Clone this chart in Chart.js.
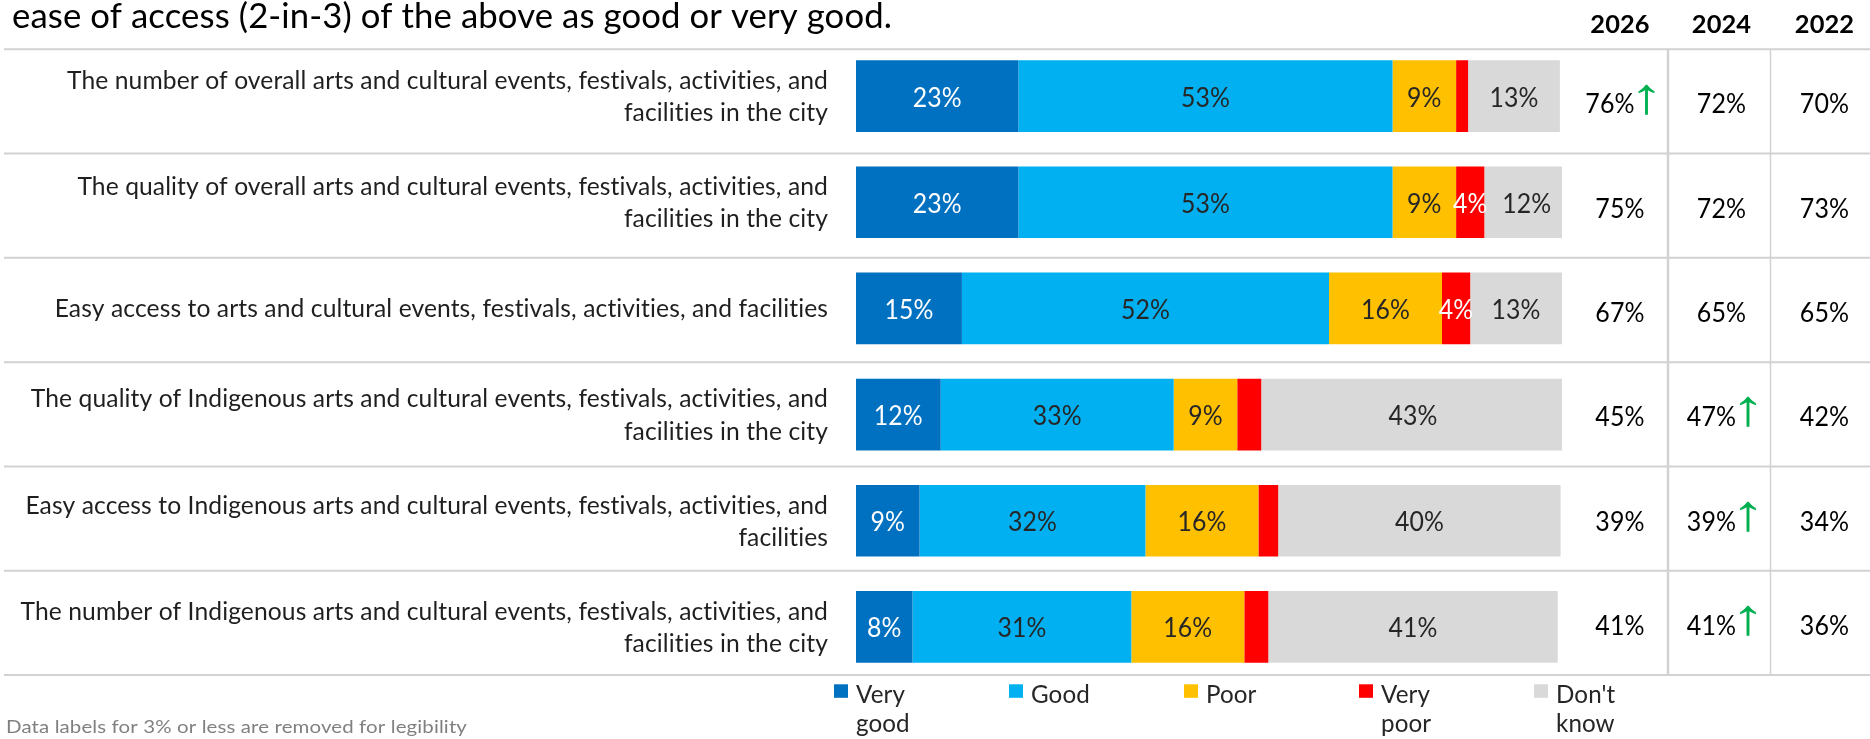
<!DOCTYPE html>
<html>
<head>
<meta charset="utf-8">
<title>Arts and culture ratings</title>
<style>
  html, body { margin: 0; padding: 0; background: #ffffff; }
  canvas { display: block; }
</style>
<script src="https://cdn.jsdelivr.net/npm/chart.js@4/dist/chart.umd.min.js"></script>
</head>
<body>
<canvas id="chart" width="1870" height="739"></canvas>
<script>
// ---- Data ----
const categories = [
  ["The number of overall arts and cultural events, festivals, activities, and", "facilities in the city"],
  ["The quality of overall arts and cultural events, festivals, activities, and", "facilities in the city"],
  ["Easy access to arts and cultural events, festivals, activities, and facilities"],
  ["The quality of Indigenous arts and cultural events, festivals, activities, and", "facilities in the city"],
  ["Easy access to Indigenous arts and cultural events, festivals, activities, and", "facilities"],
  ["The number of Indigenous arts and cultural events, festivals, activities, and", "facilities in the city"]
];

const seriesNames = [["Very", "good"], ["Good"], ["Poor"], ["Very", "poor"], ["Don't", "know"]];
const veryGood = [23, 23, 15, 12, 9, 8];
const good     = [53, 53, 52, 33, 32, 31];
const poor     = [9, 9, 16, 9, 16, 16];
const veryPoor = [1.7, 4, 4, 3.4, 2.8, 3.4];
const dontKnow = [13, 12, 13, 43, 40, 41];

const yearHeaders = ["2026", "2024", "2022"];
const total2026 = [76, 75, 67, 45, 39, 41];
const total2024 = [72, 72, 65, 47, 39, 41];
const total2022 = [70, 73, 65, 42, 34, 36];
const up2026 = [true, false, false, false, false, false];
const up2024 = [false, false, false, true, true, true];
const up2022 = [false, false, false, false, false, false];

const titleText = "ease of access (2-in-3) of the above as good or very good.";
const footnoteText = "Data labels for 3% or less are removed for legibility";

// ---- Styling ----
const FONT = "Lato, 'Open Sans', 'DejaVu Sans', sans-serif";
const seriesColors = ["#0070c0", "#00b0f0", "#ffc000", "#ff0000", "#d9d9d9"];
const labelInk = ["#ffffff", "#262626", "#262626", "#ffffff", "#262626"];
const seriesValues = [veryGood, good, poor, veryPoor, dontKnow];
const tableValues = [total2026, total2024, total2022];
const tableUp = [up2026, up2024, up2022];

const GRID_COLOR = "#d2d2d2";
const TABLE_TOP = 49.3;
const TABLE_ROW_H = 104.28;
const COL_CENTERS = [1620, 1721.5, 1824.5];
const COL_DIVIDERS = [[1668, 2.5], [1770.5, 1.5]];

function measure(ctx, font, text) {
  ctx.save();
  ctx.font = font;
  ctx.letterSpacing = "0.1px";
  const w = ctx.measureText(text).width;
  ctx.restore();
  return w;
}

function drawText(ctx, text, x, y, font, color, align, sx) {
  ctx.save();
  ctx.font = font;
  ctx.letterSpacing = "0.1px";
  ctx.fillStyle = color;
  ctx.textBaseline = "alphabetic";
  ctx.textAlign = align;
  ctx.translate(x, y);
  ctx.scale(sx, 1);
  ctx.fillText(text, 0, 0);
  ctx.restore();
}

// Green "up" arrow glyph fitted into a box
function drawArrow(ctx, x0, top, bottom, width) {
  ctx.save();
  const base = 40;
  ctx.font = base + "px 'Liberation Sans', 'DejaVu Sans', sans-serif";
  const m = ctx.measureText("\u2191");
  const gh = m.actualBoundingBoxAscent + m.actualBoundingBoxDescent;
  const gw = m.actualBoundingBoxLeft + m.actualBoundingBoxRight;
  const k = (bottom - top) / gh;
  const sx = width / (gw * k);
  ctx.translate(x0, bottom);
  ctx.scale(sx * k, k);
  ctx.fillStyle = "#00b050";
  ctx.textAlign = "left";
  ctx.textBaseline = "alphabetic";
  ctx.fillText("\u2191", m.actualBoundingBoxLeft, -m.actualBoundingBoxDescent);
  ctx.restore();
}

const decorPlugin = {
  id: "decor",
  afterDraw(chart) {
    const ctx = chart.ctx;
    const yScale = chart.scales.y;
    const rows = categories.length;

    // table grid lines
    ctx.save();
    ctx.strokeStyle = GRID_COLOR;
    ctx.lineWidth = 2;
    for (let k = 0; k <= rows; k++) {
      const y = TABLE_TOP + k * TABLE_ROW_H;
      ctx.beginPath();
      ctx.moveTo(4, y);
      ctx.lineTo(chart.width, y);
      ctx.stroke();
    }
    COL_DIVIDERS.forEach(([x, w]) => {
      ctx.lineWidth = w;
      ctx.beginPath();
      ctx.moveTo(x, TABLE_TOP);
      ctx.lineTo(x, TABLE_TOP + rows * TABLE_ROW_H);
      ctx.stroke();
    });
    ctx.restore();

    // title
    const titleFont = "34px " + FONT;
    drawText(ctx, titleText, 12, 27.5, titleFont, "#000000", "left",
      880 / measure(ctx, titleFont, titleText));

    // category labels, right aligned against the bars
    const labelFont = "25.5px " + FONT;
    const labelSx = 761 / measure(ctx, labelFont, categories[0][0]);
    const lineH = 32.4;
    categories.forEach((lines, i) => {
      const cy = yScale.getPixelForValue(i);
      lines.forEach((line, j) => {
        const y = cy + 9 + (j - (lines.length - 1) / 2) * lineH;
        drawText(ctx, line, 828, y, labelFont, "#1f1f1f", "right", labelSx);
      });
    });

    // year table
    const headFont = "bold 25.5px " + FONT;
    const headSx = 59.3 / measure(ctx, headFont, "2026");
    yearHeaders.forEach((h, c) => {
      drawText(ctx, h, COL_CENTERS[c], 33.3, headFont, "#000000", "center", headSx);
    });
    const valFont = "26px " + FONT;
    const valSx = 49.3 / measure(ctx, valFont, "72%");
    tableValues.forEach((col, c) => {
      col.forEach((v, r) => {
        const mid = TABLE_TOP + (r + 0.5) * TABLE_ROW_H;
        const base = mid + 12;
        const txt = v + "%";
        const w = measure(ctx, valFont, txt) * valSx;
        if (tableUp[c][r]) {
          const arrowW = 17, gap = 3;
          const start = COL_CENTERS[c] - (w + gap + arrowW) / 2;
          drawText(ctx, txt, start, base, valFont, "#000000", "left", valSx);
          drawArrow(ctx, start + w + gap, base - 30, base + 1.7, arrowW);
        } else {
          drawText(ctx, txt, COL_CENTERS[c], base, valFont, "#000000", "center", valSx);
        }
      });
    });

    // legend
    const legFont = "24.5px " + FONT;
    const legSx = 49 / measure(ctx, legFont, "Very");
    seriesNames.forEach((name, i) => {
      const x = 834 + i * 175;
      ctx.fillStyle = seriesColors[i];
      ctx.fillRect(x, 684.3, 14, 13.5);
      name.forEach((line, j) => {
        drawText(ctx, line, x + 22, 703.3 + j * 28.4, legFont, "#262626", "left", legSx);
      });
    });

    // footnote
    const footFont = "17px " + FONT;
    drawText(ctx, footnoteText, 6, 733, footFont, "#808080", "left",
      461 / measure(ctx, footFont, footnoteText));
  }
};

const valueLabelPlugin = {
  id: "valueLabels",
  afterDatasetsDraw(chart) {
    const ctx = chart.ctx;
    const font = "26px " + FONT;
    const sx = 49 / measure(ctx, font, "23%");
    chart.data.datasets.forEach((ds, i) => {
      const meta = chart.getDatasetMeta(i);
      meta.data.forEach((el, j) => {
        const v = ds.data[j];
        if (Math.round(v) <= 3) return;
        const x = (el.x + el.base) / 2;
        drawText(ctx, Math.round(v) + "%", x, el.y + 10.5, font, labelInk[i], "center", sx);
      });
    });
  }
};

new Chart(document.getElementById("chart"), {
  type: "bar",
  data: {
    labels: categories.map(l => l.join(" ")),
    datasets: seriesNames.map((n, i) => ({
      label: n.join(" "),
      data: seriesValues[i],
      backgroundColor: seriesColors[i],
      borderWidth: 0,
      categoryPercentage: 1,
      barPercentage: 0.675
    }))
  },
  options: {
    indexAxis: "y",
    responsive: false,
    animation: false,
    devicePixelRatio: 1,
    layout: { padding: { left: 856, right: 308, top: 43, bottom: 59 } },
    scales: {
      x: { stacked: true, min: 0, max: 100, display: false },
      y: { stacked: true, display: false }
    },
    plugins: {
      legend: { display: false },
      tooltip: { enabled: false }
    }
  },
  plugins: [valueLabelPlugin, decorPlugin]
});
</script>
</body>
</html>
